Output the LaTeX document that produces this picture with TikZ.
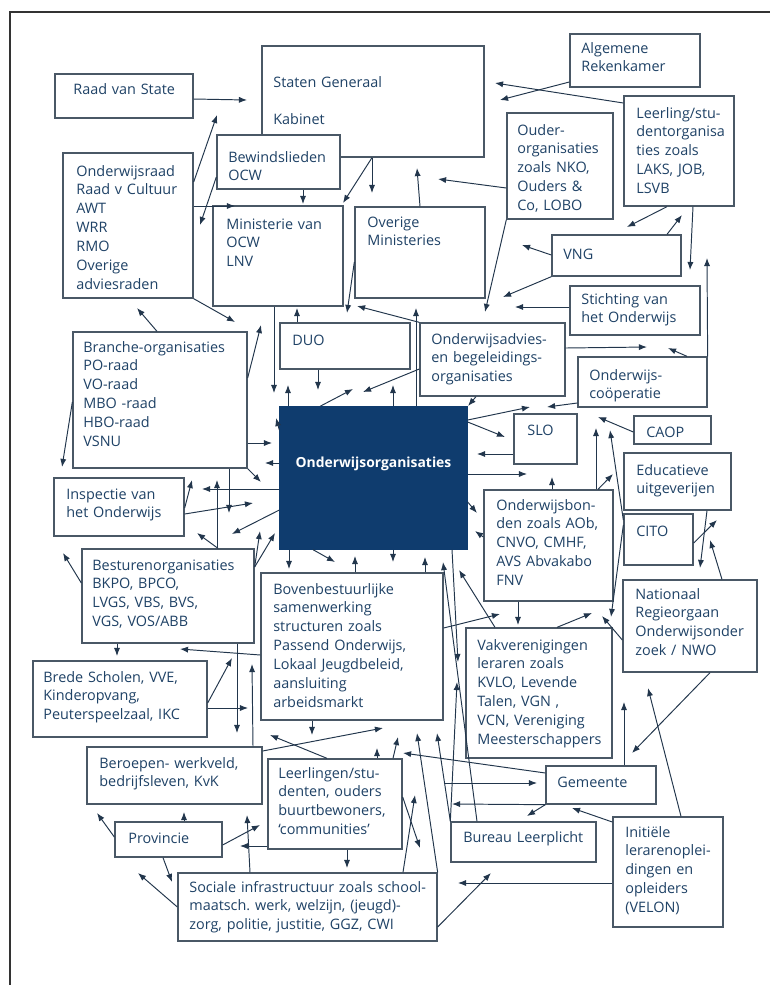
\documentclass[tikz,border=0pt]{standalone}
\usepackage{fontspec}
\setmainfont{Open Sans}
\frenchspacing
\usetikzlibrary{arrows.meta,fit}
\definecolor{rand}{HTML}{4A5866}
\definecolor{tekstblauw}{HTML}{1F4266}
\definecolor{lijn}{HTML}{22364C}
\definecolor{donker}{HTML}{0F3C6E}
\tikzset{
  kader/.style={draw=rand, line width=0.75pt, fill=white, inner sep=0pt},
  tekst/.style={anchor=base west, inner sep=0pt, text width=6cm, align=left,
    text=tekstblauw, font=\fontsize{8.2}{10.8}\selectfont},
  pijl/.style={draw=lijn, line width=0.55pt, -{Latex[length=4.6pt,width=3.5pt]}},
}
\begin{document}
\begin{tikzpicture}[x=0.02cm, y=-0.02cm]
  \useasboundingbox (0,0) rectangle (770,985);
  \draw[line width=0.6pt, black!80] (10,985) -- (10,12) -- (770,12);

  % boxes
  \node[kader, fit={(262,46) (484,157)}] (staten) {};
  \node[kader, fit={(55,74) (193,118)}] (raad) {};
  \node[kader, fit={(570,34) (700,87)}] (rekenkamer) {};
  \node[kader, fit={(624,96) (734,206)}] (leerlingorg) {};
  \node[kader, fit={(507,113) (613,219)}] (ouder) {};
  \node[kader, fit={(217,135) (340,189)}] (bewind) {};
  \node[kader, fit={(63,153) (193,298)}] (onderwijsraad) {};
  \node[kader, fit={(213,206) (343,306)}] (ministerie) {};
  \node[kader, fit={(355,207) (485,298)}] (overige) {};
  \node[kader, fit={(552,235) (681,276)}] (vng) {};
  \node[kader, fit={(570,286) (700,335)}] (stichting) {};
  \node[kader, fit={(280,323) (410,369)}] (duo) {};
  \node[kader, fit={(420,323) (565,396)}] (advies) {};
  \node[kader, fit={(578,357) (707,407)}] (coop) {};
  \node[kader, fit={(73,332) (247,468)}] (branche) {};
  \node[kader, draw=donker, fill=donker, fit={(280,407) (467,549)}] (onderwijsorg) {};
  \node[kader, fit={(514,414) (577,464)}] (slo) {};
  \node[kader, fit={(634,416) (711,444)}] (caop) {};
  \node[kader, fit={(624,453) (731,510)}] (educatief) {};
  \node[kader, fit={(54,478) (184,536)}] (inspectie) {};
  \node[kader, fit={(484,490) (613,601)}] (bonden) {};
  \node[kader, fit={(624,514) (693,565)}] (cito) {};
  \node[kader, fit={(82,549) (254,643)}] (besturen) {};
  \node[kader, fit={(623,580) (757,672)}] (nationaal) {};
  \node[kader, fit={(261,573) (443,720)}] (bovenbest) {};
  \node[kader, fit={(466,628) (612,758)}] (vakver) {};
  \node[kader, fit={(33,661) (207,737)}] (brede) {};
  \node[kader, fit={(87,747) (262,804)}] (beroepen) {};
  \node[kader, fit={(268,759) (402,849)}] (leerlingen) {};
  \node[kader, fit={(115,822) (222,857)}] (provincie) {};
  \node[kader, fit={(546,766) (656,804)}] (gemeente) {};
  \node[kader, fit={(451,822) (596,862)}] (bureau) {};
  \node[kader, fit={(178,873) (437,941)}] (sociale) {};
  \node[kader, fit={(613,817) (723,927)}] (initieel) {};

  % texts
  \node[tekst] (staten-t) at (273,87) {Staten Generaal\\[10.8pt]Kabinet};
  \node[tekst] (raad-t) at (73,94) {Raad van State};
  \node[tekst] (rekenkamer-t) at (581,53) {Algemene\\Rekenkamer};
  \node[tekst] (leerlingorg-t) at (636,118) {Leerling/stu-\\dentorganisa\\ties zoals\\LAKS, JOB,\\LSVB};
  \node[tekst] (ouder-t) at (517,135) {Ouder-\\organisaties\\zoals NKO,\\Ouders \&\\Co, LOBO};
  \node[tekst] (bewind-t) at (228,162) {Bewindslieden\\OCW};
  \node[tekst] (onderwijsraad-t) at (76,176) {Onderwijsraad\\Raad v Cultuur\\AWT\\WRR\\RMO\\Overige\\adviesraden};
  \node[tekst] (ministerie-t) at (226,229) {Ministerie van\\OCW\\LNV};
  \node[tekst] (overige-t) at (367,227) {Overige\\Ministeries};
  \node[tekst] (vng-t) at (563,259) {VNG};
  \node[tekst] (stichting-t) at (581,304) {Stichting van\\het Onderwijs};
  \node[tekst] (duo-t) at (292,345) {DUO};
  \node[tekst] (advies-t) at (431,344) {Onderwijsadvies-\\en begeleidings-\\organisaties};
  \node[tekst] (coop-t) at (589,380) {Onderwijs-\\coöperatie};
  \node[tekst] (branche-t) at (83,352) {Branche-organisaties\\PO-raad\\VO-raad\\MBO -raad\\HBO-raad\\VSNU};
  \node[anchor=base, inner sep=0pt, text=white, font=\bfseries\fontsize{7.9}{9}\selectfont]
    (onderwijsorg-t) at (onderwijsorg.center |- 0,467) {Onderwijsorganisaties};
  \node[tekst] (slo-t) at (527,435) {SLO};
  \node[tekst] (caop-t) at (646,437) {CAOP};
  \node[tekst] (educatief-t) at (636,475) {Educatieve\\uitgeverijen};
  \node[tekst] (inspectie-t) at (66,499) {Inspectie van\\het Onderwijs};
  \node[tekst] (bonden-t) at (496,510) {Onderwijsbon-\\den zoals AOb,\\CNVO, CMHF,\\AVS Abvakabo\\FNV};
  \node[tekst] (cito-t) at (636,536) {CITO};
  \node[tekst] (besturen-t) at (92,570) {Besturenorganisaties\\BKPO, BPCO,\\LVGS, VBS, BVS,\\VGS, VOS/ABB};
  \node[tekst] (nationaal-t) at (635,599) {Nationaal\\Regieorgaan\\Onderwijsonder\\zoek / NWO};
  \node[tekst] (bovenbest-t) at (273,594) {Bovenbestuurlijke\\samenwerking\\structuren zoals\\Passend Onderwijs,\\Lokaal Jeugdbeleid,\\aansluiting\\arbeidsmarkt};
  \node[tekst] (vakver-t) at (477,650) {Vakverenigingen\\leraren zoals\\KVLO, Levende\\Talen, VGN ,\\VCN, Vereniging\\Meesterschappers};
  \node[tekst] (brede-t) at (43,682) {Brede Scholen, VVE,\\Kinderopvang,\\Peuterspeelzaal, IKC};
  \node[tekst] (beroepen-t) at (99,768) {Beroepen- werkveld,\\bedrijfsleven, KvK};
  \node[tekst] (leerlingen-t) at (278,778) {Leerlingen/stu-\\denten, ouders\\buurtbewoners,\\‘communities’};
  \node[tekst] (provincie-t) at (128,843) {Provincie};
  \node[tekst] (gemeente-t) at (557,787) {Gemeente};
  \node[tekst] (bureau-t) at (463,842) {Bureau Leerplicht};
  \node[tekst] (sociale-t) at (189,892) {Sociale infrastructuur zoals school-\\maatsch. werk, welzijn, (jeugd)-\\zorg, politie, justitie, GGZ, CWI};
  \node[tekst] (initieel-t) at (625,837) {Initiële\\lerarenoplei-\\dingen en\\opleiders\\(VELON)};

  % arrows, top
  \draw[pijl] (raad.east |- 0,99) -- (247,100);
  \draw[pijl] (onderwijsraad.east |- 0,182) -- (217,115);
  \draw[pijl] (bewind.west |- 0,177) -- (200,225);
  \draw[pijl] (onderwijsraad.east |- 0,206) -- (235,206);
  \draw[pijl] (bewind.south -| 303,0) -- (303,204);
  \draw[pijl] (staten.south -| 372,0) -- (343,203);
  \draw[pijl] (staten.south -| 372,0) -- (372,193);
  \draw[pijl] (overige.north -| 420,0) -- (417,168);
  \draw[pijl] (ouder.west |- 0,188) -- (438,179);
  \draw[pijl] (rekenkamer.west |- 0,82) -- (500,100);
  \draw[pijl] (leerlingorg.west |- 0,103) -- (495,83);
  \draw[pijl] (ouder.south west) -- (485,312);
  \draw[pijl] (vng.west |- 0,255) -- (522,245);
  \draw[pijl] (vng.south west) -- (503,297);
  \draw[pijl] (stichting.west |- 0,307) -- (515,307);
  \draw[pijl] (leerlingorg.south -| 667,0) -- (627,227);
  \draw[pijl] (vng.north -| 667,0) -- (682,215);
  \draw[pijl] (leerlingorg.south -| 693,0) -- (690,270);
  \draw[pijl] (coop.north east) -- (707,258);
  \draw[pijl] (coop.north -| 687,0) -- (668,348);
  \draw[pijl] (advies.east |- 0,348) -- (647,347);
  \draw[pijl] (coop.west |- 0,403) -- (547,407);

  % arrows, middle
  \draw[pijl] (onderwijsorg.east |- 0,420) -- (530,407);
  \draw[pijl] (onderwijsorg.east |- 0,422) -- (505,437);
  \draw[pijl] (slo.west |- 0,454) -- (477,454);
  \draw[pijl] (onderwijsorg.east |- 0,474) -- (527,474);
  \draw[pijl] (caop.west |- 0,432) -- (598,417);
  \draw[pijl] (bonden.north -| 596,0) -- (596,428);
  \draw[pijl] (cito.west |- 0,520) -- (610,430);
  \draw[pijl] (cito.west |- 0,525) -- (611,617);
  \draw[pijl] (bonden.north -| 598,0) -- (613,474);
  \draw[pijl] (bonden.north -| 552,0) -- (552,477);
  \draw[pijl] (educatief.south -| 707,0) -- (700,568);
  \draw[pijl] (cito.east |- 0,543) -- (717,520);
  \draw[pijl] (nationaal.north -| 722,0) -- (710,540);
  \draw[pijl] (bonden.west |- 0,537) -- (475,531);
  \draw[pijl] (onderwijsorg.east |- 0,502) -- (477,513);
  \draw[pijl] (advies.south -| 476,0) -- (468,406);
  \draw[pijl] (ministerie.south -| 274,0) -- (274,393);
  \draw[pijl] (duo.north -| 297,0) -- (297,308);
  \draw[pijl] (overige.west |- 0,262) -- (347,313);
  \draw[pijl] (advies.north west) -- (357,306);
  \draw[pijl] (onderwijsorg.north -| 416,0) -- (416,308);
  \draw[pijl] (duo.south -| 318,0) -- (318,390);
  \draw[pijl] (onderwijsorg.north -| 288,0) -- (288,385);
  \draw[pijl] (onderwijsorg.north -| 320,0) -- (353,389);
  \draw[pijl] (advies.west |- 0,369) -- (363,392);
  \draw[pijl] (onderwijsorg.north -| 393,0) -- (393,385);
  \draw[pijl] (onderwijsorg.west |- 0,430) -- (276,418);
  \draw[pijl] (branche.east |- 0,443) -- (272,443);
  \draw[pijl] (onderwijsorg.west |- 0,463) -- (265,463);
  \draw[pijl] (branche.south east) -- (261,482);
  \draw[pijl] (onderwijsorg.west |- 0,489) -- (202,489);
  \draw[pijl] (inspectie.east |- 0,508) -- (192,480);
  \draw[pijl] (besturen.north -| 217,0) -- (217,480);
  \draw[pijl] (besturen.north -| 218,0) -- (197,533);
  \draw[pijl] (branche.south -| 229,0) -- (229,513);
  \draw[pijl] (inspectie.east |- 0,514) -- (253,503);
  \draw[pijl] (onderwijsorg.west |- 0,510) -- (232,534);
  \draw[pijl] (besturen.east |- 0,567) -- (260,531);
  \draw[pijl] (besturen.east |- 0,567) -- (275,533);
  \draw[pijl] (besturen.west |- 0,583) -- (63,553);
  \draw[pijl] (branche.west |- 0,402) -- (62,467);
  \draw[pijl] (onderwijsraad.south east) -- (235,322);
  \draw[pijl] (branche.north -| 157,0) -- (137,308);
  \draw[pijl] (branche.east |- 0,378) -- (261,325);

  % arrows, bottom
  \draw[pijl] (onderwijsorg.south -| 289,0) -- (289,569);
  \draw[pijl] (onderwijsorg.south -| 313,0) -- (335,562);
  \draw[pijl] (bovenbest.north -| 355,0) -- (355,556);
  \draw[pijl] (onderwijsorg.south -| 393,0) -- (393,562);
  \draw[pijl] (bovenbest.north -| 425,0) -- (425,557);
  \draw[pijl] (bureau.north -| 477,0) -- (443,562);
  \draw[pijl] (onderwijsorg.south -| 452,0) -- (458,662);
  \draw[pijl] (bureau.north west) -- (437,733);
  \draw[pijl] (bureau.north west) -- (457,682);
  \draw[pijl] (sociale.north east) -- (417,733);
  \draw[pijl] (leerlingen.north -| 393,0) -- (398,737);
  \draw[pijl] (444,783) -- (537,783);
  \draw[pijl] (gemeente.south west) -- (452,804);
  \draw[pijl] (gemeente.south west) -- (527,816);
  \draw[pijl] (gemeente.west |- 0,773) -- (403,753);
  \draw[pijl] (gemeente.north -| 624,0) -- (624,702);
  \draw[pijl] (nationaal.south -| 710,0) -- (632,753);
  \draw[pijl] (initieel.north -| 681,0) -- (648,688);
  \draw[pijl] (initieel.west |- 0,822) -- (572,808);
  \draw[pijl] (initieel.west |- 0,883) -- (458,883);
  \draw[pijl] (sociale.east |- 0,927) -- (491,873);
  \draw[pijl] (leerlingen.east |- 0,797) -- (420,848);
  \draw[pijl] (sociale.north -| 403,0) -- (415,795);
  \draw[pijl] (leerlingen.south -| 347,0) -- (347,868);
  \draw[pijl] (leerlingen.west |- 0,846) -- (240,846);
  \draw[pijl] (provincie.east |- 0,845) -- (260,825);
  \draw[pijl] (sociale.north -| 250,0) -- (247,815);
  \draw[pijl] (provincie.north -| 184,0) -- (184,812);
  \draw[pijl] (provincie.west |- 0,837) -- (97,813);
  \draw[pijl] (provincie.south -| 163,0) -- (172,882);
  \draw[pijl] (sociale.west |- 0,907) -- (138,873);
  \draw[pijl] (besturen.south -| 117,0) -- (117,656);
  \draw[pijl] (bovenbest.west |- 0,655) -- (180,649);
  \draw[pijl] (brede.east |- 0,703) -- (232,658);
  \draw[pijl] (brede.east |- 0,708) -- (248,708);
  \draw[pijl] (besturen.south -| 237,0) -- (237,733);
  \draw[pijl] (beroepen.north -| 253,0) -- (252,664);
  \draw[pijl] (beroepen.east |- 0,751) -- (383,728);
  \draw[pijl] (leerlingen.north -| 327,0) -- (270,735);
  \draw[pijl] (bovenbest.south -| 312,0) -- (312,735);
  \draw[pijl] (leerlingen.north -| 377,0) -- (377,748);
  \draw[pijl] (bonden.south -| 518,0) -- (518,625);
  \draw[pijl] (vakver.north -| 495,0) -- (459,570);
  \draw[pijl] (bovenbest.east |- 0,628) -- (500,614);
  \draw[pijl] (vakver.north -| 557,0) -- (592,613);
  \draw[pijl] (nationaal.west |- 0,640) -- (602,616);
\end{tikzpicture}
\end{document}
